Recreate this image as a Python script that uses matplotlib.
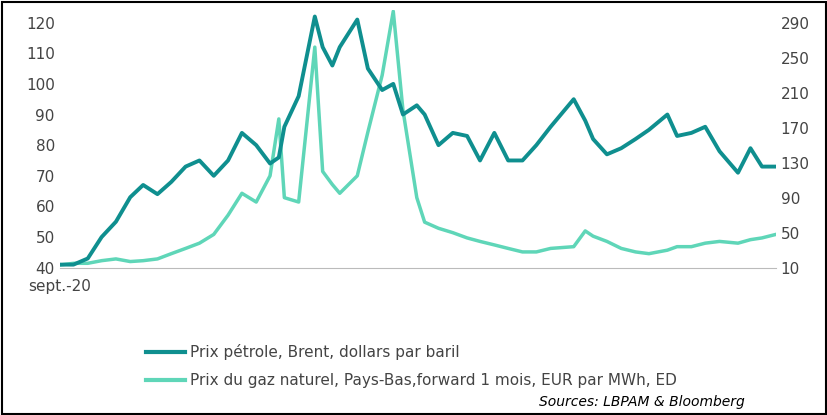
import matplotlib
matplotlib.use("Agg")
import matplotlib.pyplot as plt
import pandas as pd

dates = ["2020-09-01","2020-10-01","2020-11-01","2020-12-01","2021-01-01","2021-02-01","2021-03-01","2021-04-01",
 "2021-05-01","2021-06-01","2021-07-01","2021-08-01","2021-09-01","2021-10-01","2021-11-01","2021-12-01",
 "2021-12-20","2022-01-01","2022-02-01","2022-03-08","2022-03-25","2022-04-15","2022-05-01","2022-06-08","2022-07-01",
 "2022-08-01","2022-08-25","2022-09-15","2022-10-15","2022-11-01","2022-12-01","2023-01-01","2023-02-01","2023-03-01",
 "2023-04-01","2023-05-01","2023-06-01","2023-07-01","2023-08-01","2023-09-20","2023-10-15","2023-11-01","2023-12-01",
 "2024-01-01","2024-02-01","2024-03-01","2024-04-10","2024-05-01","2024-06-01","2024-07-01","2024-08-01","2024-09-10",
 "2024-10-07","2024-11-01","2024-12-01"]
brent = [41,41,43,50,55,63,67,64,68,73,75,70,75,84,80,74,76,86,96,122,112,106,112,121,105,
 98,100,90,93,90,80,84,83,75,84,75,75,80,86,95,88,82,77,
 79,82,85,90,83,84,86,78,71,79,73,73]
gas = [13,15,15,18,20,17,18,20,26,32,38,48,70,95,85,115,180,90,85,262,120,105,95,115,165,
 230,303,190,90,62,55,50,44,40,36,32,28,28,32,34,52,46,40,
 32,28,26,30,34,34,38,40,38,42,44,48]
legend_labels = ["Prix pétrole, Brent, dollars par baril",
                 "Prix du gaz naturel, Pays-Bas,forward 1 mois, EUR par MWh, ED"]
c1, c2 = "#0f8f8f", "#5fd6b8"

x = pd.to_datetime(dates)
fig = plt.figure(figsize=(8.28, 4.15), dpi=100)
ax = fig.add_axes([0.072, 0.355, 0.865, 0.62])
ax2 = ax.twinx()
ax2.plot(x, gas, color=c2, lw=2.5, zorder=1)
ax.plot(x, brent, color=c1, lw=2.8, zorder=3)
ax.set_zorder(ax2.get_zorder() + 1); ax.patch.set_visible(False)
ax.set_ylim(40, 124); ax2.set_ylim(10, 304)
ax.set_yticks(range(40, 121, 10)); ax2.set_yticks(range(10, 291, 40))
ax.set_xlim(x[0], x[-1])
ax.set_xticks([x[0]]); ax.set_xticklabels(["sept.-20"])
for a in (ax, ax2):
    for s in a.spines.values(): s.set_visible(False)
    a.tick_params(length=0, labelsize=11, colors="#444444")
ax.spines["bottom"].set_visible(True); ax.spines["bottom"].set_color("#bbbbbb")
ax.tick_params(axis="x", pad=8)
fig.lines.append(plt.Line2D([146/828, 185/828], [1-352/415]*2, color=c1, lw=3, transform=fig.transFigure))
fig.lines.append(plt.Line2D([146/828, 185/828], [1-380/415]*2, color=c2, lw=3, transform=fig.transFigure))
fig.text(190/828, 1-352/415, legend_labels[0], va="center", fontsize=11, color="#444444")
fig.text(190/828, 1-380/415, legend_labels[1], va="center", fontsize=11, color="#444444")
fig.text(745/828, 1-402/415, "Sources: LBPAM & Bloomberg", ha="right", va="center", fontsize=10, style="italic")
fig.patches.append(plt.Rectangle((0.002, 0.003), 0.995, 0.993, fill=False, ec="black", lw=1.5, transform=fig.transFigure))
fig.savefig("out.png", dpi=100)
